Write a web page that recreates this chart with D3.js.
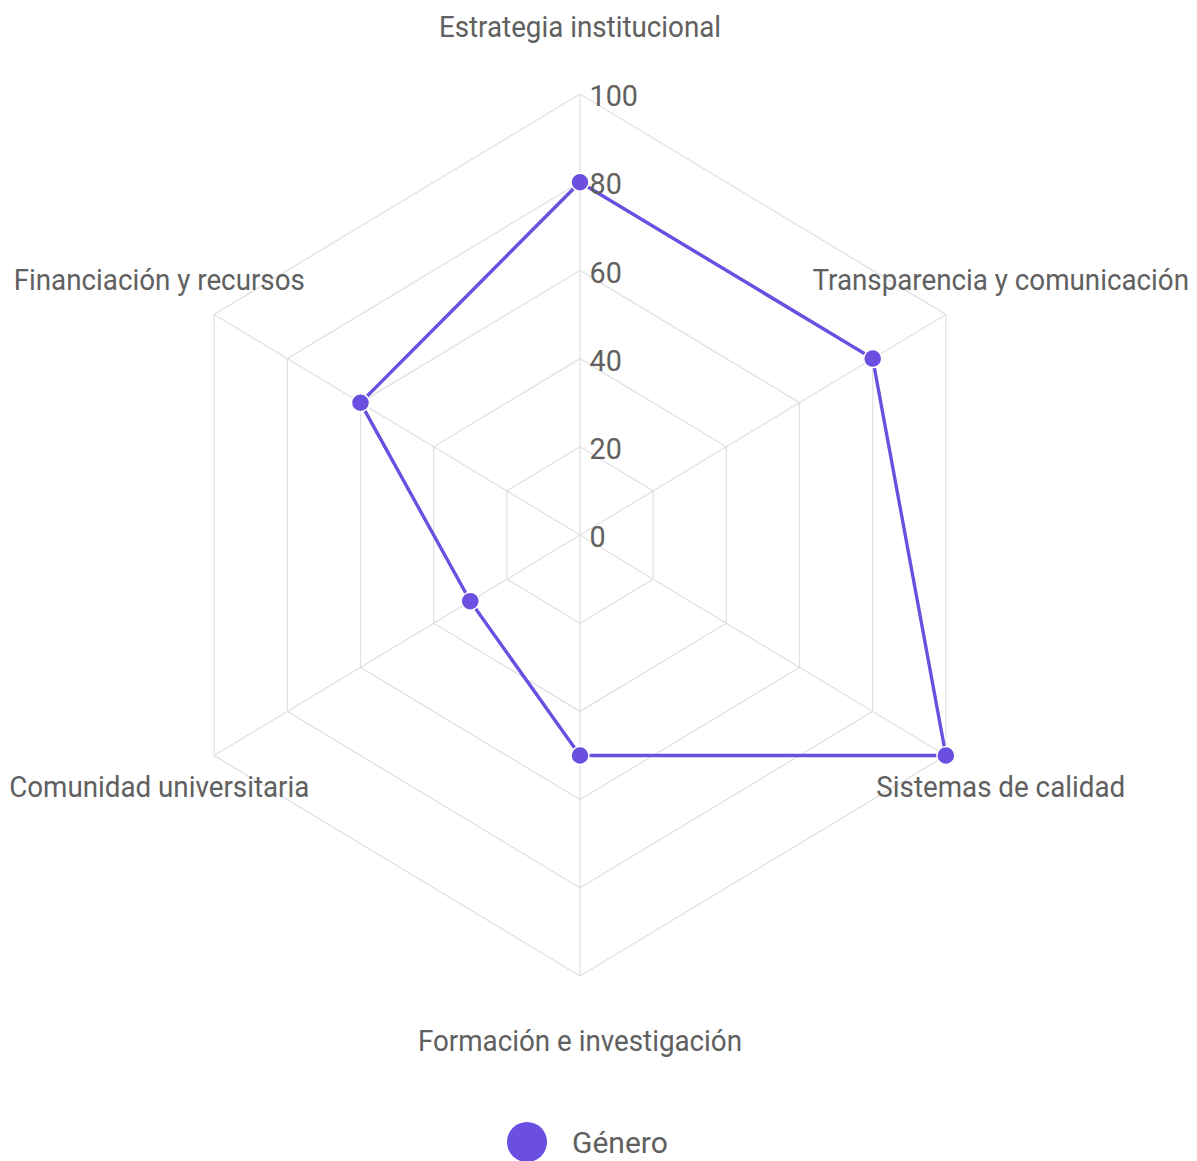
<!DOCTYPE html>
<html>
<head>
<meta charset="utf-8">
<script src="https://cdn.jsdelivr.net/npm/d3@7"></script>
<style>
  body { margin: 0; background: #fff; }
  text { font-family: Roboto, "Noto Sans", sans-serif; fill: #606060; }
</style>
</head>
<body>
<svg id="chart" width="1197" height="1161"></svg>
<script>
var axisNames = [
    "Estrategia institucional",
    "Transparencia y comunicación",
    "Sistemas de calidad",
    "Formación e investigación",
    "Comunidad universitaria",
    "Financiación y recursos"
];
var seriesName = "Género";
var seriesValues = [80, 80, 100, 50, 30, 60];
var tickValues = [0, 20, 40, 60, 80, 100];

var color = "#6a4fe0";

var svg = d3.select("#chart");
var cx = 580, cy = 535, R = 441;

// the picture is a bit narrower than tall, so squash x
var g = svg.append("g")
    .attr("transform", "translate(" + cx + "," + cy + ") scale(0.958,1)");

var r = d3.scaleLinear().domain([0, 100]).range([0, R]);
var angle = d3.scaleLinear().domain([0, axisNames.length]).range([0, 2 * Math.PI]);

function px(i, v){ return r(v) * Math.sin(angle(i)); }
function py(i, v){ return -r(v) * Math.cos(angle(i)); }

// rings
tickValues.forEach(function(t){
    if(t == 0) return;
    var pts = axisNames.map(function(d, i){ return [px(i, t), py(i, t)]; });
    g.append("polygon")
        .attr("points", pts.map(function(p){ return p.join(","); }).join(" "))
        .attr("fill", "none")
        .attr("stroke", "#e0e0e0")
        .attr("stroke-width", 1.3);
});

// angle lines
g.selectAll("line.spoke")
    .data(axisNames)
    .enter()
    .append("line")
    .attr("class", "spoke")
    .attr("x1", 0).attr("y1", 0)
    .attr("x2", function(d, i){ return px(i, 100); })
    .attr("y2", function(d, i){ return py(i, 100); })
    .attr("stroke", "#e0e0e0")
    .attr("stroke-width", 1.3);

// axis labels
g.selectAll("text.axis-label")
    .data(axisNames)
    .enter()
    .append("text")
    .attr("class", "axis-label")
    .attr("x", function(d, i){ return px(i, 115); })
    .attr("y", function(d, i){ return py(i, 115) - 1; })
    .attr("text-anchor", "middle")
    .attr("dominant-baseline", "central")
    .style("font-size", "29px")
    .text(function(d){ return d; });

// series line
var line = d3.line().curve(d3.curveLinearClosed);
g.append("path")
    .attr("d", line(seriesValues.map(function(v, i){ return [px(i, v), py(i, v)]; })))
    .attr("fill", "none")
    .attr("stroke", color)
    .attr("stroke-width", 3.5);

// tick labels
g.selectAll("text.tick")
    .data(tickValues)
    .enter()
    .append("text")
    .attr("class", "tick")
    .attr("x", 10)
    .attr("y", function(d){ return -r(d) + 2; })
    .attr("dominant-baseline", "central")
    .style("font-size", "30px")
    .text(function(d){ return d; });

// points
g.selectAll("ellipse.pt")
    .data(seriesValues)
    .enter()
    .append("ellipse")
    .attr("class", "pt")
    .attr("cx", function(d, i){ return px(i, d); })
    .attr("cy", function(d, i){ return py(i, d); })
    .attr("rx", 9 / 0.958)
    .attr("ry", 9)
    .attr("fill", color)
    .attr("stroke", "#fff")
    .attr("stroke-width", 1.5);

// legend
var legend = svg.append("g").attr("transform", "translate(527,1142)");
legend.append("circle").attr("r", 20).attr("fill", color);
legend.append("text")
    .attr("x", 45)
    .attr("y", 0)
    .attr("dominant-baseline", "central")
    .style("font-size", "30px")
    .text(seriesName);
</script>
</body>
</html>
